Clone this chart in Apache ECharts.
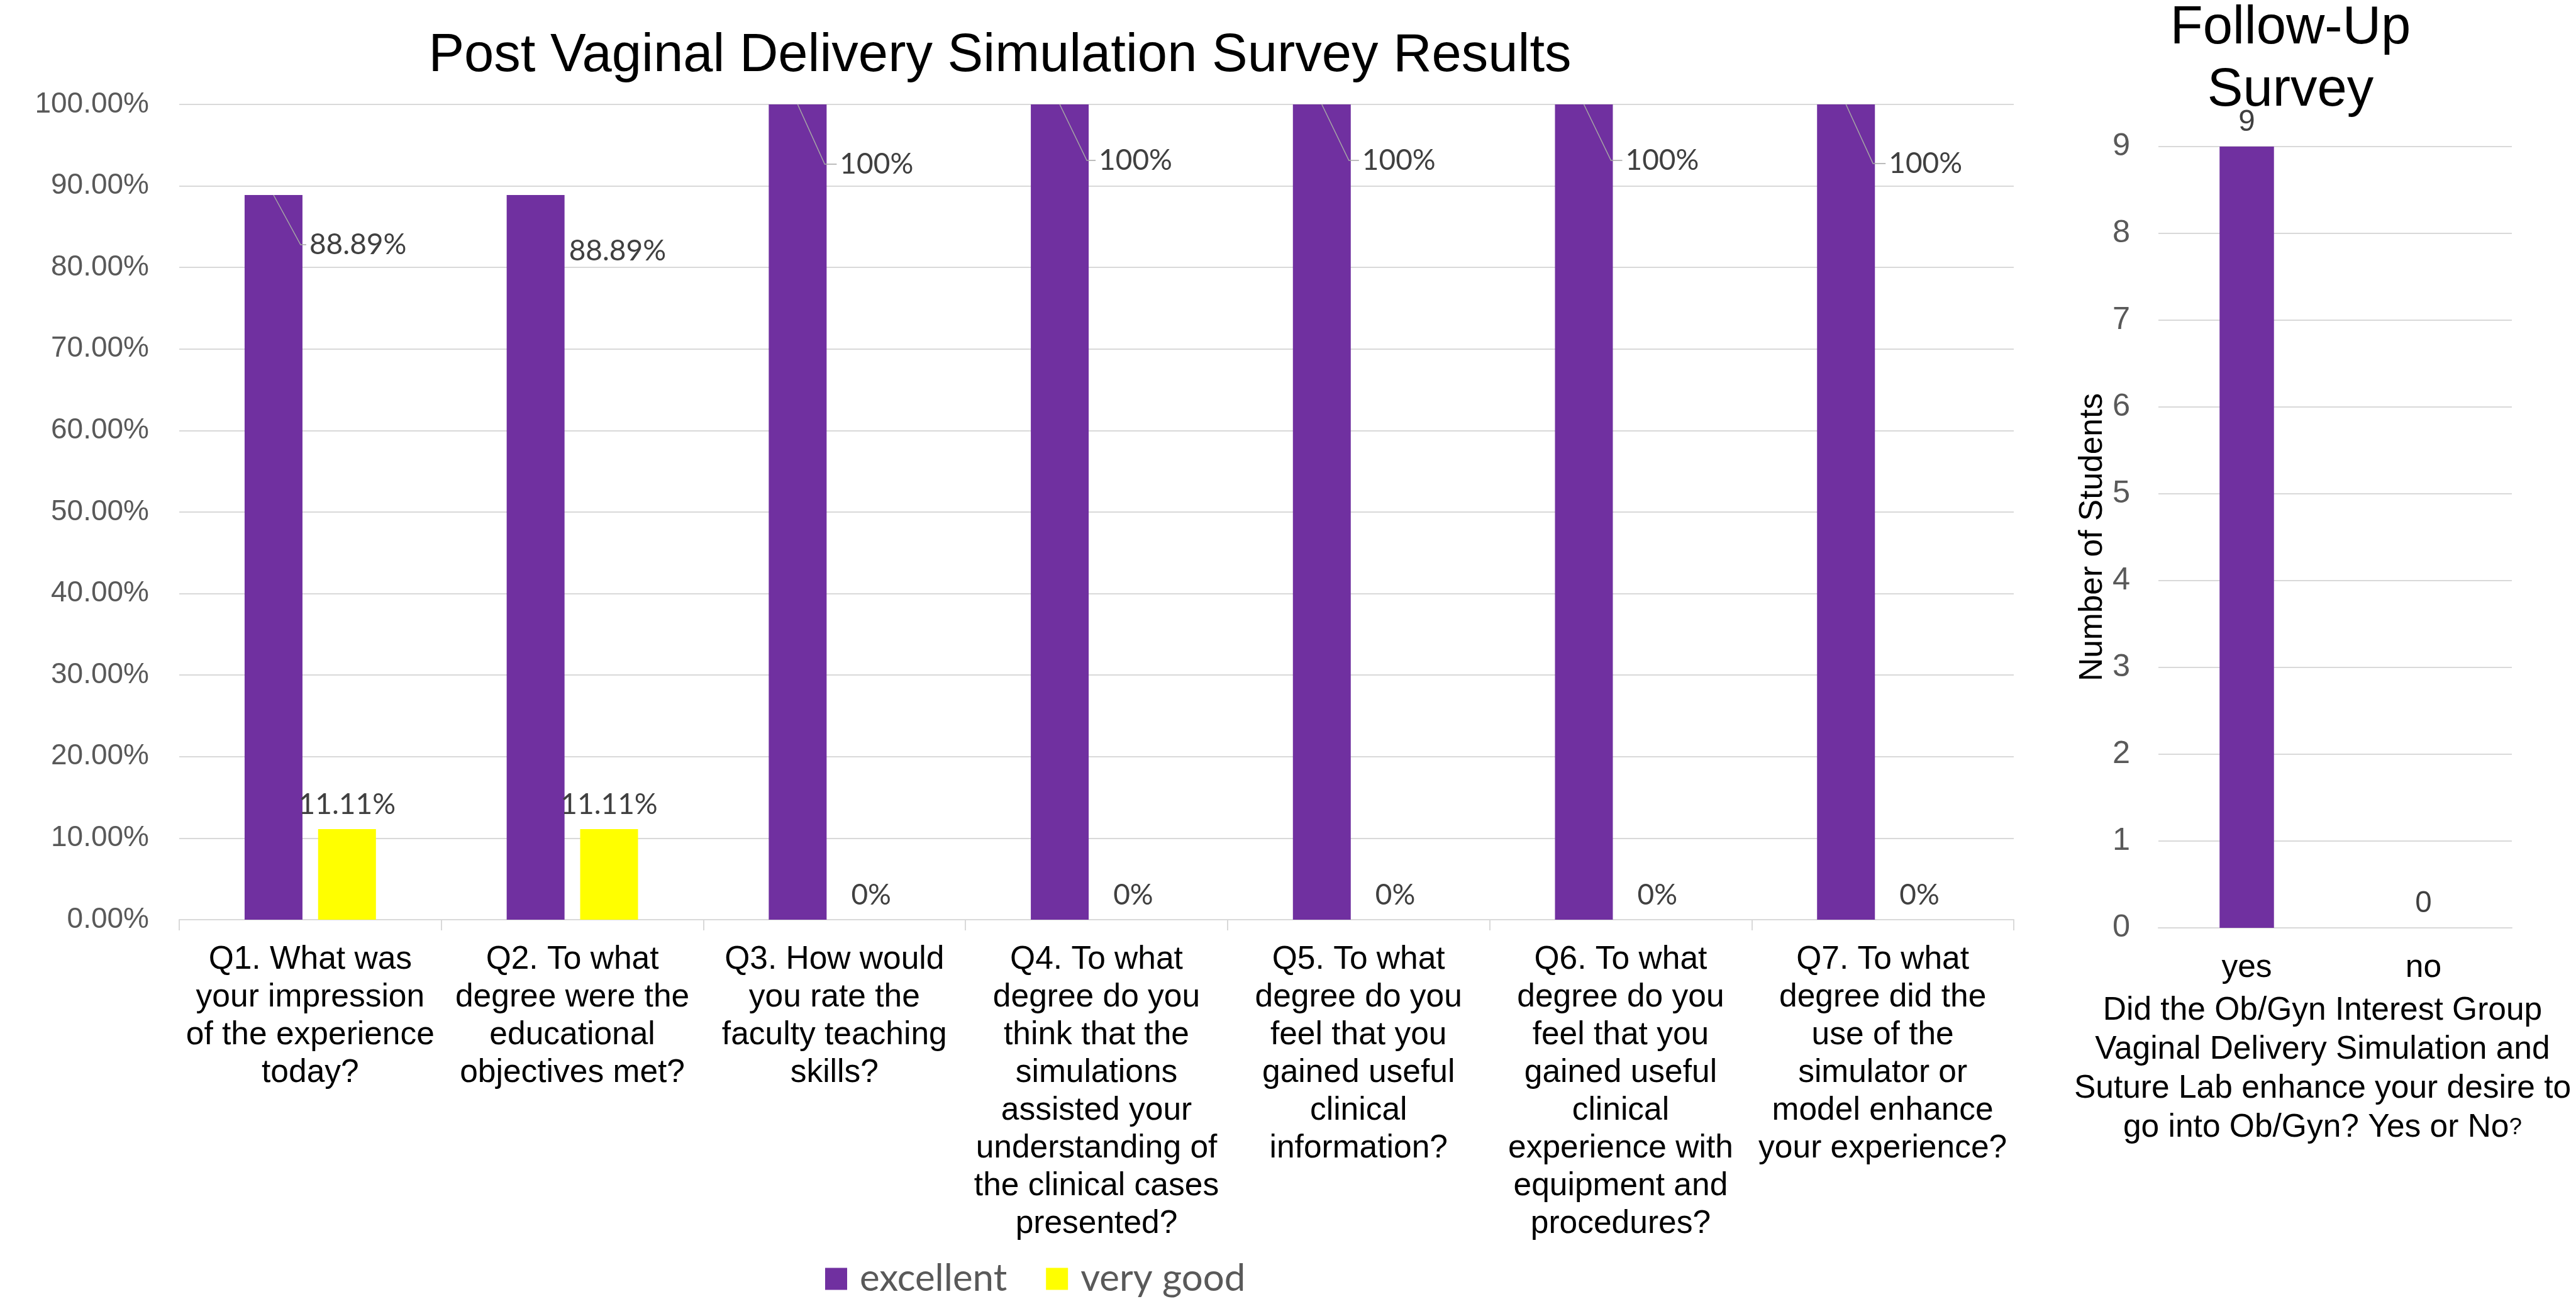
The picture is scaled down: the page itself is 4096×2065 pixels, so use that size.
<!DOCTYPE html>
<html>
<head>
<meta charset="utf-8">
<style>
  html, body { margin: 0; padding: 0; background: #fff; }
  #chart { width: 4096px; height: 2065px; }
</style>
<script src="https://cdn.jsdelivr.net/npm/echarts@6/dist/echarts.min.js"></script>
</head>
<body>
<div id="chart"></div>
<script>
// survey questions (line breaks as in the original axis)
const questions = [
  'Q1. What was\nyour impression\nof the experience\ntoday?',
  'Q2. To what\ndegree were the\neducational\nobjectives met?',
  'Q3. How would\nyou rate the\nfaculty teaching\nskills?',
  'Q4. To what\ndegree do you\nthink that the\nsimulations\nassisted your\nunderstanding of\nthe clinical cases\npresented?',
  'Q5. To what\ndegree do you\nfeel that you\ngained useful\nclinical\ninformation?',
  'Q6. To what\ndegree do you\nfeel that you\ngained useful\nclinical\nexperience with\nequipment and\nprocedures?',
  'Q7. To what\ndegree did the\nuse of the\nsimulator or\nmodel enhance\nyour experience?'
]
const excellent = [88.89, 88.89, 100, 100, 100, 100, 100]
const veryGood = [11.11, 11.11, 0, 0, 0, 0, 0]

const followUpAnswers = ['yes', 'no']
const followUpCounts = [9, 0]

const ARIAL = '"Liberation Sans", Arial, sans-serif'
const CALIBRI = 'Lato, Carlito, sans-serif'
const PURPLE = '#7030a0'
const YELLOW = '#ffff00'
const GRID = '#d9d9d9'

/* excellent labels were dragged off the bars: offset right of bar / below bar top */
const labelDx = [11, 7, 21, 16, 18, 20, 22]
const labelDy = [79, 89, 95, 89, 89, 89, 94]
const hasLeader = [true, false, true, true, true, true, true]

const BAR_W = 92
const BAR_GAP = 0.27

const chart = echarts.init(document.getElementById('chart'))

const option = {
  animation: false,
  backgroundColor: '#fff',
  textStyle: { fontFamily: ARIAL },

  title: [
    {
      text: 'Post Vaginal Delivery Simulation Survey Results',
      left: 1590,
      top: 47,
      padding: 0,
      textAlign: 'center',
      textStyle: { fontFamily: ARIAL, fontSize: 85, fontWeight: 'normal', color: '#000' }
    },
    {
      text: 'Follow-Up\nSurvey',
      left: 3642,
      top: -4,
      padding: 0,
      textAlign: 'center',
      textStyle: { fontFamily: ARIAL, fontSize: 85, lineHeight: 99, fontWeight: 'normal', color: '#000' }
    }
  ],

  legend: {
    data: ['excellent', 'very good'],
    left: 1312,
    top: 2003,
    padding: 0,
    icon: 'rect',
    itemWidth: 35,
    itemHeight: 35,
    itemGap: 62,
    textStyle: {
      fontFamily: CALIBRI,
      fontSize: 60,
      color: '#595959',
      padding: [0, 0, 0, 15]
    }
  },

  grid: [
    { left: 285, right: 894, top: 166, bottom: 603, outerBoundsMode: 'none' },
    { left: 3432, right: 102, top: 233, bottom: 590, outerBoundsMode: 'none' }
  ],

  xAxis: [
    {
      type: 'category',
      gridIndex: 0,
      data: questions,
      axisLine: { lineStyle: { color: GRID, width: 2 } },
      axisTick: { show: true, length: 17, lineStyle: { color: GRID, width: 2 } },
      axisLabel: {
        interval: 0,
        margin: 34,
        fontFamily: ARIAL,
        fontSize: 51.5,
        lineHeight: 60,
        color: '#000'
      }
    },
    {
      type: 'category',
      gridIndex: 1,
      data: followUpAnswers,
      axisLine: { lineStyle: { color: GRID, width: 2 } },
      axisTick: { show: false },
      axisLabel: { margin: 34, fontFamily: ARIAL, fontSize: 51.5, lineHeight: 60, color: '#000' },
      name: 'Did the Ob/Gyn Interest Group\nVaginal Delivery Simulation and\nSuture Lab enhance your desire to\ngo into Ob/Gyn? Yes or No{q|?}',
      nameLocation: 'middle',
      nameGap: 101,
      nameTextStyle: {
        fontFamily: ARIAL,
        fontSize: 51.5,
        lineHeight: 62,
        color: '#000',
        padding: [0, 40, 0, 0],
        rich: { q: { fontFamily: ARIAL, fontSize: 37, color: '#000' } }
      }
    }
  ],

  yAxis: [
    {
      type: 'value',
      gridIndex: 0,
      min: 0,
      max: 100,
      interval: 10,
      axisLine: { show: false },
      axisTick: { show: false },
      splitLine: { lineStyle: { color: GRID, width: 2 } },
      axisLabel: {
        margin: 48,
        fontFamily: ARIAL,
        fontSize: 46,
        color: '#595959',
        formatter: v => v.toFixed(2) + '%'
      }
    },
    {
      type: 'value',
      gridIndex: 1,
      min: 0,
      max: 9,
      interval: 1,
      axisLine: { show: false },
      axisTick: { show: false },
      splitLine: { lineStyle: { color: GRID, width: 2 } },
      axisLabel: { margin: 45, fontFamily: ARIAL, fontSize: 50.5, color: '#595959' },
      name: 'Number of Students',
      nameLocation: 'middle',
      nameGap: 78,
      nameTextStyle: { fontFamily: ARIAL, fontSize: 51.5, color: '#000' }
    }
  ],

  series: [
    {
      name: 'excellent',
      type: 'bar',
      xAxisIndex: 0,
      yAxisIndex: 0,
      barWidth: BAR_W,
      barGap: BAR_GAP * 100 + '%',
      itemStyle: { color: PURPLE },
      data: excellent,
      label: {
        show: true,
        formatter: '{c}%',
        fontFamily: CALIBRI,
        fontSize: 46,
        color: '#404040'
      },
      labelLayout: p => ({
        x: p.rect.x + p.rect.width + labelDx[p.dataIndex],
        y: p.rect.y + labelDy[p.dataIndex],
        align: 'left',
        verticalAlign: 'middle'
      })
    },
    {
      name: 'very good',
      type: 'bar',
      xAxisIndex: 0,
      yAxisIndex: 0,
      barWidth: BAR_W,
      barGap: BAR_GAP * 100 + '%',
      itemStyle: { color: YELLOW },
      data: veryGood,
      label: {
        show: true,
        position: 'top',
        distance: 16,
        formatter: '{c}%',
        fontFamily: CALIBRI,
        fontSize: 46,
        color: '#404040'
      }
    },
    {
      // leader lines from the excellent bars to their moved labels
      name: 'leader',
      type: 'custom',
      xAxisIndex: 0,
      yAxisIndex: 0,
      silent: true,
      z: 5,
      data: excellent.map((v, i) => [i, v]),
      encode: { x: 0, y: 1 },
      renderItem: (params, api) => {
        const i = params.dataIndex
        if (!hasLeader[i]) return null
        const p = api.coord([api.value(0), api.value(1)])
        const left = p[0] - (BAR_W * 2 + BAR_W * BAR_GAP) / 2
        const right = left + BAR_W
        const y = p[1] + labelDy[i]
        return {
          type: 'polyline',
          shape: { points: [[left + BAR_W / 2, p[1]], [right - 3, y], [right + labelDx[i] - 5, y]] },
          style: { stroke: '#a6a6a6', lineWidth: 1.5, fill: null }
        }
      }
    },
    {
      name: 'follow-up',
      type: 'bar',
      xAxisIndex: 1,
      yAxisIndex: 1,
      barWidth: 86.5,
      itemStyle: { color: PURPLE },
      data: followUpCounts,
      label: {
        show: true,
        position: 'top',
        distance: 14,
        fontFamily: ARIAL,
        fontSize: 47.5,
        color: '#404040'
      }
    }
  ]
}

chart.setOption(option)
</script>
</body>
</html>
